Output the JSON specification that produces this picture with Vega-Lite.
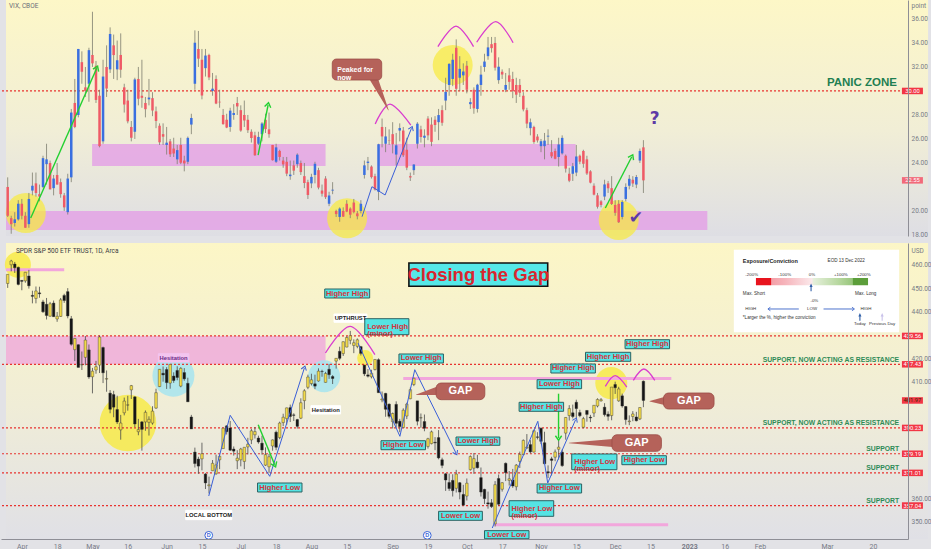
{
  "$schema": "https://vega.github.io/schema/vega-lite/v6.json",
  "background": "#e2e2e6",
  "padding": 0,
  "spacing": 3,
  "config": {
    "view": {"stroke": null},
    "font": "Liberation Sans",
    "axis": {"grid": false, "ticks": false, "domainColor": "#8e8e96", "labelColor": "#787b86", "labelFont": "Roboto", "labelFontSize": 6.5, "labelOverlap": false}
  },
  "datasets": {
    "vix": [
      {"t":-4,"o":22.0,"h":22.8,"l":19.5,"c":19.6},{"t":-3,"o":19.4,"h":19.6,"l":18.1,"c":18.9},{"t":-2,"o":19.0,"h":19.9,"l":18.7,"c":19.3},{"t":-1,"o":19.3,"h":20.9,"l":19.2,"c":20.6},
      {"t":0,"o":20.6,"h":21.0,"l":19.3,"c":19.6},{"t":1,"o":19.6,"h":19.9,"l":18.6,"c":18.6},{"t":2,"o":18.9,"h":21.5,"l":18.6,"c":21.0},{"t":3,"o":21.7,"h":23.2,"l":21.3,"c":22.1},
      {"t":4,"o":22.3,"h":23.2,"l":21.2,"c":21.5},{"t":5,"o":21.4,"h":22.2,"l":20.8,"c":21.2},{"t":6,"o":22.0,"h":24.6,"l":21.9,"c":24.4},{"t":7,"o":23.9,"h":25.6,"l":22.2,"c":24.3},
      {"t":8,"o":24.0,"h":24.2,"l":21.8,"c":21.8},{"t":9,"o":21.9,"h":23.0,"l":21.3,"c":22.7},{"t":10,"o":23.0,"h":24.0,"l":22.2,"c":22.2},{"t":11,"o":22.4,"h":22.7,"l":21.1,"c":21.4},
      {"t":12,"o":21.3,"h":21.5,"l":20.0,"c":20.3},{"t":13,"o":19.9,"h":23.1,"l":19.7,"c":22.7},{"t":14,"o":22.8,"h":28.5,"l":22.4,"c":28.2},{"t":15,"o":29.0,"h":31.0,"l":26.9,"c":27.0},
      {"t":16,"o":28.0,"h":33.5,"l":27.8,"c":33.5},{"t":17,"o":32.4,"h":33.3,"l":30.6,"c":31.6},{"t":18,"o":30.3,"h":32.0,"l":29.5,"c":30.0},{"t":19,"o":30.6,"h":33.6,"l":29.1,"c":33.4},
      {"t":20,"o":33.0,"h":36.6,"l":32.0,"c":32.3},{"t":21,"o":32.1,"h":32.5,"l":29.0,"c":29.25},{"t":22,"o":29.6,"h":30.1,"l":25.3,"c":25.4},{"t":23,"o":25.8,"h":32.6,"l":25.6,"c":31.2},
      {"t":24,"o":32.0,"h":33.8,"l":29.5,"c":30.2},{"t":25,"o":31.8,"h":35.3,"l":31.5,"c":34.75},{"t":26,"o":33.8,"h":34.7,"l":31.0,"c":32.99},{"t":27,"o":31.8,"h":34.2,"l":30.9,"c":32.56},
      {"t":28,"o":33.0,"h":34.8,"l":31.1,"c":31.77},{"t":29,"o":30.3,"h":30.6,"l":28.2,"c":28.87},{"t":30,"o":29.2,"h":30.1,"l":27.3,"c":27.47},{"t":31,"o":27.0,"h":27.5,"l":25.8,"c":26.1},
      {"t":32,"o":26.6,"h":31.1,"l":26.0,"c":30.96},{"t":33,"o":31.0,"h":32.0,"l":28.8,"c":29.35},{"t":34,"o":29.6,"h":32.6,"l":28.6,"c":29.43},{"t":35,"o":29.0,"h":29.5,"l":27.8,"c":28.48},
      {"t":36,"o":29.3,"h":31.0,"l":28.8,"c":29.45},{"t":37,"o":29.4,"h":29.9,"l":27.9,"c":28.37},{"t":38,"o":28.3,"h":28.7,"l":26.9,"c":27.5},{"t":39,"o":27.1,"h":27.3,"l":25.5,"c":25.72},
      {"t":40,"o":26.4,"h":27.3,"l":25.5,"c":26.19},{"t":41,"o":25.5,"h":27.0,"l":24.7,"c":25.69},{"t":42,"o":25.8,"h":26.0,"l":24.5,"c":24.72},{"t":43,"o":25.2,"h":26.1,"l":24.5,"c":24.79},
      {"t":44,"o":24.3,"h":25.5,"l":23.9,"c":25.07},{"t":45,"o":25.5,"h":26.1,"l":23.9,"c":24.02},{"t":46,"o":24.2,"h":24.6,"l":23.3,"c":23.96},{"t":47,"o":24.1,"h":26.2,"l":23.9,"c":26.09},
      {"t":48,"o":27.2,"h":28.1,"l":26.4,"c":27.75},{"t":49,"o":30.6,"h":35.05,"l":30.1,"c":34.02},{"t":50,"o":33.5,"h":35.0,"l":32.0,"c":32.69},{"t":51,"o":32.6,"h":33.5,"l":29.3,"c":29.62},
      {"t":52,"o":31.9,"h":33.5,"l":31.2,"c":32.95},{"t":53,"o":33.0,"h":33.1,"l":30.9,"c":31.13},{"t":54,"o":30.0,"h":31.5,"l":29.6,"c":30.19},{"t":55,"o":31.0,"h":31.3,"l":28.9,"c":28.95},
      {"t":56,"o":29.1,"h":30.1,"l":28.6,"c":29.05},{"t":57,"o":28.0,"h":28.5,"l":27.2,"c":27.23},{"t":58,"o":27.6,"h":28.1,"l":26.9,"c":26.95},{"t":59,"o":27.0,"h":28.6,"l":26.6,"c":28.36},
      {"t":60,"o":28.0,"h":28.9,"l":27.6,"c":28.16},{"t":61,"o":29.0,"h":29.5,"l":28.0,"c":28.71},{"t":62,"o":28.4,"h":28.8,"l":26.6,"c":26.7},{"t":63,"o":28.0,"h":29.2,"l":27.0,"c":27.54},
      {"t":64,"o":27.6,"h":28.0,"l":26.5,"c":26.73},{"t":65,"o":26.6,"h":26.8,"l":25.7,"c":26.08},{"t":66,"o":26.3,"h":26.6,"l":24.6,"c":24.64},{"t":67,"o":25.6,"h":26.6,"l":25.5,"c":26.17},
      {"t":68,"o":26.4,"h":27.4,"l":25.8,"c":27.29},{"t":69,"o":27.6,"h":28.1,"l":26.5,"c":26.82},{"t":70,"o":26.8,"h":28.2,"l":26.1,"c":26.4},{"t":71,"o":25.5,"h":25.5,"l":24.2,"c":24.23},
      {"t":72,"o":24.1,"h":25.6,"l":24.0,"c":25.3},{"t":73,"o":25.0,"h":25.1,"l":24.2,"c":24.5},{"t":74,"o":24.2,"h":24.5,"l":23.6,"c":23.88},{"t":75,"o":24.1,"h":24.5,"l":22.9,"c":23.11},
      {"t":76,"o":22.9,"h":24.2,"l":22.6,"c":23.03},{"t":77,"o":23.8,"h":24.2,"l":23.0,"c":23.36},{"t":78,"o":23.9,"h":24.8,"l":23.6,"c":24.69},{"t":79,"o":24.0,"h":24.2,"l":23.0,"c":23.24},
      {"t":80,"o":22.9,"h":24.0,"l":21.9,"c":22.33},{"t":81,"o":22.4,"h":22.6,"l":21.0,"c":21.33},{"t":82,"o":22.3,"h":23.1,"l":21.9,"c":22.84},{"t":83,"o":23.0,"h":24.1,"l":22.3,"c":23.93},
      {"t":84,"o":23.4,"h":23.6,"l":21.8,"c":21.95},{"t":85,"o":21.7,"h":22.2,"l":21.2,"c":21.44},{"t":86,"o":22.7,"h":22.9,"l":21.0,"c":21.15},{"t":87,"o":20.6,"h":21.6,"l":20.4,"c":21.29},
      {"t":88,"o":21.7,"h":22.4,"l":21.4,"c":21.77},{"t":89,"o":20.0,"h":20.1,"l":19.5,"c":19.74},{"t":90,"o":19.5,"h":20.3,"l":19.1,"c":20.2},{"t":91,"o":20.0,"h":20.3,"l":19.5,"c":19.53},
      {"t":92,"o":20.6,"h":20.9,"l":19.9,"c":19.95},{"t":93,"o":20.2,"h":20.3,"l":19.4,"c":19.69},{"t":94,"o":20.7,"h":21.0,"l":19.8,"c":19.9},{"t":95,"o":19.8,"h":20.0,"l":19.3,"c":19.56},
      {"t":96,"o":20.0,"h":20.9,"l":19.8,"c":20.6},{"t":97,"o":23.0,"h":24.2,"l":22.7,"c":23.8},{"t":98,"o":24.0,"h":24.5,"l":23.4,"c":24.11},{"t":99,"o":23.7,"h":23.8,"l":22.7,"c":22.82},
      {"t":100,"o":22.9,"h":23.1,"l":21.7,"c":21.78},{"t":101,"o":21.6,"h":25.6,"l":20.9,"c":25.56},{"t":102,"o":27.0,"h":27.7,"l":25.3,"c":26.21},{"t":103,"o":25.6,"h":27.0,"l":24.9,"c":26.21},
      {"t":104,"o":25.9,"h":26.8,"l":25.5,"c":25.87},{"t":105,"o":26.4,"h":27.4,"l":24.8,"c":25.56},{"t":106,"o":24.7,"h":26.5,"l":23.8,"c":25.47},{"t":107,"o":26.7,"h":27.3,"l":25.8,"c":26.91},
      {"t":108,"o":26.7,"h":27.0,"l":24.5,"c":24.64},{"t":109,"o":25.1,"h":26.1,"l":23.4,"c":23.61},{"t":110,"o":22.9,"h":23.2,"l":22.5,"c":22.79},{"t":111,"o":23.4,"h":23.9,"l":23.0,"c":23.87},
      {"t":112,"o":25.6,"h":27.4,"l":25.2,"c":27.27},{"t":113,"o":26.8,"h":27.1,"l":25.7,"c":26.16},{"t":114,"o":26.1,"h":26.8,"l":25.3,"c":26.27},{"t":115,"o":27.7,"h":27.9,"l":25.9,"c":26.3},
      {"t":116,"o":27.2,"h":27.8,"l":25.4,"c":25.76},{"t":117,"o":27.6,"h":27.9,"l":26.6,"c":27.16},{"t":118,"o":27.4,"h":28.5,"l":25.9,"c":27.99},{"t":119,"o":28.4,"h":28.8,"l":27.1,"c":27.35},
      {"t":120,"o":29.2,"h":31.1,"l":28.4,"c":29.92},{"t":121,"o":30.5,"h":32.3,"l":29.6,"c":32.26},{"t":122,"o":31.0,"h":33.1,"l":30.4,"c":32.6},{"t":123,"o":33.6,"h":34.3,"l":29.6,"c":30.18},
      {"t":124,"o":31.1,"h":32.9,"l":30.0,"c":31.84},{"t":125,"o":31.3,"h":32.3,"l":30.5,"c":31.62},{"t":126,"o":32.1,"h":32.5,"l":29.8,"c":30.1},{"t":127,"o":28.9,"h":29.4,"l":28.5,"c":29.07},
      {"t":128,"o":30.1,"h":30.3,"l":28.1,"c":28.55},{"t":129,"o":28.5,"h":30.6,"l":28.2,"c":30.52},{"t":130,"o":30.5,"h":32.1,"l":29.6,"c":31.36},{"t":131,"o":32.0,"h":33.1,"l":31.6,"c":32.45},
      {"t":132,"o":32.9,"h":34.5,"l":32.6,"c":33.63},{"t":133,"o":33.9,"h":34.5,"l":33.2,"c":33.57},{"t":134,"o":34.0,"h":34.5,"l":31.7,"c":31.94},{"t":135,"o":30.9,"h":32.8,"l":30.6,"c":32.02},
      {"t":136,"o":31.6,"h":31.8,"l":31.0,"c":31.37},{"t":137,"o":30.1,"h":31.5,"l":29.9,"c":30.5},{"t":138,"o":31.3,"h":31.9,"l":30.1,"c":30.76},{"t":139,"o":31.0,"h":31.6,"l":29.4,"c":29.98},
      {"t":140,"o":30.5,"h":31.1,"l":29.0,"c":29.69},{"t":141,"o":30.5,"h":31.0,"l":29.5,"c":29.85},{"t":142,"o":29.6,"h":29.9,"l":28.3,"c":28.46},{"t":143,"o":28.4,"h":28.6,"l":26.9,"c":27.28},
      {"t":144,"o":26.9,"h":27.7,"l":26.3,"c":27.39},{"t":145,"o":27.0,"h":27.1,"l":25.6,"c":25.75},{"t":146,"o":26.2,"h":26.4,"l":25.7,"c":25.88},{"t":147,"o":25.4,"h":26.0,"l":24.9,"c":25.81},
      {"t":148,"o":25.4,"h":26.5,"l":24.3,"c":25.86},{"t":149,"o":26.2,"h":26.8,"l":25.5,"c":26.27},{"t":150,"o":24.9,"h":25.9,"l":24.4,"c":24.55},{"t":151,"o":25.0,"h":25.2,"l":24.3,"c":24.35},
      {"t":152,"o":24.5,"h":26.1,"l":23.7,"c":25.54},{"t":153,"o":24.8,"h":26.3,"l":24.7,"c":26.09},{"t":154,"o":24.6,"h":24.7,"l":23.2,"c":23.53},{"t":155,"o":23.1,"h":23.6,"l":22.4,"c":22.52},
      {"t":156,"o":23.1,"h":24.0,"l":22.5,"c":23.73},{"t":157,"o":23.2,"h":25.5,"l":22.9,"c":24.54},{"t":158,"o":24.6,"h":24.7,"l":23.9,"c":24.11},{"t":159,"o":25.0,"h":25.1,"l":23.6,"c":23.93},
      {"t":160,"o":24.3,"h":24.6,"l":23.0,"c":23.12},{"t":161,"o":23.3,"h":23.4,"l":22.3,"c":22.36},{"t":162,"o":22.1,"h":22.3,"l":21.3,"c":21.36},{"t":163,"o":21.3,"h":21.5,"l":20.2,"c":20.35},
      {"t":164,"o":20.8,"h":20.9,"l":20.3,"c":20.5},{"t":165,"o":21.2,"h":22.6,"l":20.9,"c":22.21},{"t":166,"o":22.3,"h":22.5,"l":21.5,"c":21.89},{"t":167,"o":21.9,"h":22.9,"l":20.5,"c":20.58},
      {"t":168,"o":20.5,"h":20.9,"l":19.6,"c":19.84},{"t":169,"o":20.6,"h":20.9,"l":19.0,"c":19.06},{"t":170,"o":19.5,"h":20.9,"l":19.3,"c":20.75},{"t":171,"o":21.0,"h":22.3,"l":20.8,"c":22.0},
      {"t":172,"o":22.1,"h":23.0,"l":21.8,"c":22.68},{"t":173,"o":22.6,"h":22.9,"l":22.0,"c":22.29},{"t":174,"o":22.2,"h":23.0,"l":21.9,"c":22.83},{"t":175,"o":24.2,"h":25.2,"l":24.0,"c":25.0},
      {"t":176,"o":25.3,"h":25.9,"l":21.5,"c":22.55}
    ],
    "spy": [
      {"t":-4,"o":452.0,"h":455.9,"l":450.1,"c":455.9},{"t":-3,"o":460.0,"h":462.1,"l":457.2,"c":461.6},{"t":-2,"o":460.3,"h":461.2,"l":456.5,"c":458.7},{"t":-1,"o":458.9,"h":459.2,"l":451.2,"c":451.6},
      {"t":0,"o":453.3,"h":453.5,"l":449.1,"c":452.9},{"t":1,"o":453.1,"h":456.9,"l":452.3,"c":456.8},{"t":2,"o":455.2,"h":457.8,"l":449.8,"c":451.0},{"t":3,"o":446.9,"h":448.9,"l":443.5,"c":446.5},
      {"t":4,"o":445.6,"h":450.7,"l":443.5,"c":448.8},{"t":5,"o":447.97,"h":450.6,"l":445.9,"c":447.6},{"t":6,"o":444.1,"h":445.0,"l":439.4,"c":439.9},{"t":7,"o":443.1,"h":445.8,"l":436.6,"c":438.3},
      {"t":8,"o":438.0,"h":444.1,"l":437.8,"c":443.3},{"t":9,"o":443.6,"h":444.7,"l":437.7,"c":437.8},{"t":10,"o":436.8,"h":439.8,"l":435.6,"c":437.97},{"t":11,"o":437.9,"h":445.8,"l":437.7,"c":445.0},
      {"t":12,"o":446.9,"h":447.6,"l":443.7,"c":444.7},{"t":13,"o":448.5,"h":450.0,"l":437.1,"c":438.1},{"t":14,"o":436.9,"h":438.1,"l":425.4,"c":426.0},{"t":15,"o":423.7,"h":428.7,"l":418.8,"c":428.5},
      {"t":16,"o":425.8,"h":426.0,"l":416.1,"c":416.1},{"t":17,"o":417.2,"h":422.9,"l":415.0,"c":417.3},{"t":18,"o":420.4,"h":429.5,"l":417.0,"c":427.8},{"t":19,"o":423.6,"h":425.9,"l":411.2,"c":412.0},
      {"t":20,"o":412.1,"h":415.9,"l":405.0,"c":414.5},{"t":21,"o":415.0,"h":418.9,"l":413.4,"c":416.4},{"t":22,"o":417.1,"h":429.7,"l":413.7,"c":429.1},{"t":23,"o":424.6,"h":425.0,"l":409.4,"c":413.8},
      {"t":24,"o":411.1,"h":414.8,"l":405.7,"c":411.3},{"t":25,"o":405.1,"h":406.4,"l":396.5,"c":398.2},{"t":26,"o":404.5,"h":406.1,"l":394.8,"c":399.1},{"t":27,"o":398.1,"h":404.0,"l":391.9,"c":392.75},
      {"t":28,"o":389.4,"h":395.8,"l":385.2,"c":392.3},{"t":29,"o":396.7,"h":403.2,"l":395.6,"c":401.7},{"t":30,"o":399.98,"h":403.97,"l":397.6,"c":400.1},{"t":31,"o":406.5,"h":408.6,"l":402.6,"c":408.3},
      {"t":32,"o":403.5,"h":403.8,"l":390.6,"c":391.9},{"t":33,"o":388.6,"h":394.1,"l":387.1,"c":389.5},{"t":34,"o":392.8,"h":393.2,"l":380.5,"c":389.6},{"t":35,"o":392.8,"h":397.7,"l":389.0,"c":396.9},
      {"t":36,"o":392.6,"h":395.2,"l":386.96,"c":393.9},{"t":37,"o":392.3,"h":399.5,"l":391.6,"c":397.4},{"t":38,"o":398.7,"h":407.0,"l":398.4,"c":405.3},{"t":39,"o":407.9,"h":415.4,"l":407.7,"c":415.3},
      {"t":40,"o":413.6,"h":416.5,"l":410.0,"c":412.9},{"t":41,"o":415.2,"h":416.2,"l":406.9,"c":409.6},{"t":42,"o":409.4,"h":417.4,"l":407.0,"c":417.4},{"t":43,"o":412.4,"h":414.0,"l":409.5,"c":410.5},
      {"t":44,"o":414.8,"h":416.6,"l":410.6,"c":411.8},{"t":45,"o":408.1,"h":416.2,"l":407.6,"c":415.7},{"t":46,"o":413.9,"h":415.8,"l":410.4,"c":411.2},{"t":47,"o":409.3,"h":411.7,"l":401.4,"c":401.4},
      {"t":48,"o":394.9,"h":395.8,"l":389.8,"c":389.8},{"t":49,"o":379.9,"h":381.8,"l":373.3,"c":375.0},{"t":50,"o":376.9,"h":377.9,"l":370.6,"c":373.9},{"t":51,"o":377.0,"h":383.9,"l":372.1,"c":379.2},
      {"t":52,"o":370.5,"h":370.9,"l":364.1,"c":366.7},{"t":53,"o":365.5,"h":369.4,"l":362.2,"c":365.9},{"t":54,"o":371.9,"h":376.5,"l":371.8,"c":375.1},{"t":55,"o":370.6,"h":378.8,"l":370.2,"c":374.4},
      {"t":56,"o":376.6,"h":378.8,"l":372.6,"c":378.1},{"t":57,"o":381.4,"h":390.1,"l":381.4,"c":390.1},{"t":58,"o":391.1,"h":391.4,"l":387.4,"c":388.6},{"t":59,"o":390.2,"h":393.2,"l":380.4,"c":380.7},
      {"t":60,"o":381.2,"h":382.3,"l":378.4,"c":380.3},{"t":61,"o":376.2,"h":380.7,"l":372.6,"c":377.3},{"t":62,"o":376.6,"h":381.7,"l":373.8,"c":381.2},{"t":63,"o":375.9,"h":382.0,"l":372.6,"c":381.96},
      {"t":64,"o":382.1,"h":386.0,"l":378.9,"c":383.25},{"t":65,"o":385.1,"h":389.8,"l":383.3,"c":388.99},{"t":66,"o":387.3,"h":390.6,"l":385.7,"c":388.67},{"t":67,"o":385.9,"h":386.9,"l":383.5,"c":384.2},
      {"t":68,"o":383.7,"h":386.9,"l":378.8,"c":380.8},{"t":69,"o":374.3,"h":381.9,"l":374.0,"c":378.8},{"t":70,"o":373.6,"h":379.1,"l":371.0,"c":377.9},{"t":71,"o":382.5,"h":385.3,"l":380.5,"c":385.1},
      {"t":72,"o":388.4,"h":389.1,"l":380.7,"c":381.95},{"t":73,"o":386.1,"h":392.9,"l":385.4,"c":392.3},{"t":74,"o":392.5,"h":396.3,"l":391.0,"c":394.8},{"t":75,"o":394.2,"h":398.9,"l":391.6,"c":398.8},
      {"t":76,"o":398.9,"h":400.2,"l":392.75,"c":395.1},{"t":77,"o":395.8,"h":396.5,"l":393.2,"c":395.6},{"t":78,"o":393.8,"h":394.1,"l":389.95,"c":390.9},{"t":79,"o":394.4,"h":402.9,"l":394.0,"c":401.0},
      {"t":80,"o":401.9,"h":406.8,"l":398.2,"c":406.1},{"t":81,"o":407.6,"h":413.0,"l":406.8,"c":411.99},{"t":82,"o":409.2,"h":413.4,"l":408.4,"c":410.8},{"t":83,"o":409.1,"h":413.0,"l":406.8,"c":408.1},
      {"t":84,"o":410.3,"h":415.7,"l":410.0,"c":414.5},{"t":85,"o":414.4,"h":415.1,"l":412.1,"c":414.3},{"t":86,"o":409.7,"h":414.2,"l":409.6,"c":413.5},{"t":87,"o":415.3,"h":417.6,"l":411.2,"c":412.99},
      {"t":88,"o":412.2,"h":412.8,"l":409.0,"c":411.35},{"t":89,"o":418.8,"h":420.1,"l":415.6,"c":419.99},{"t":90,"o":422.99,"h":424.95,"l":419.2,"c":419.99},{"t":91,"o":422.0,"h":427.2,"l":421.0,"c":427.1},
      {"t":92,"o":424.8,"h":429.4,"l":424.7,"c":428.9},{"t":93,"o":427.7,"h":431.7,"l":426.0,"c":429.7},{"t":94,"o":425.5,"h":428.1,"l":422.2,"c":426.65},{"t":95,"o":425.1,"h":428.5,"l":424.3,"c":427.9},
      {"t":96,"o":424.98,"h":425.3,"l":421.2,"c":422.1},{"t":97,"o":417.1,"h":417.2,"l":412.4,"c":413.35},{"t":98,"o":412.9,"h":415.4,"l":411.8,"c":412.35},{"t":99,"o":412.1,"h":415.1,"l":411.4,"c":413.67},
      {"t":100,"o":415.2,"h":419.6,"l":414.8,"c":419.5},{"t":101,"o":419.4,"h":419.96,"l":405.3,"c":405.3},{"t":102,"o":402.2,"h":405.8,"l":401.2,"c":402.6},{"t":103,"o":405.0,"h":405.2,"l":395.0,"c":398.2},
      {"t":104,"o":400.4,"h":400.7,"l":394.3,"c":395.2},{"t":105,"o":392.9,"h":396.8,"l":390.0,"c":396.4},{"t":106,"o":400.3,"h":401.6,"l":390.3,"c":392.2},{"t":107,"o":393.1,"h":394.1,"l":388.4,"c":390.8},
      {"t":108,"o":390.4,"h":398.6,"l":390.2,"c":397.8},{"t":109,"o":395.3,"h":401.0,"l":394.0,"c":400.4},{"t":110,"o":402.7,"h":407.5,"l":402.5,"c":406.6},{"t":111,"o":408.8,"h":411.7,"l":408.1,"c":411.5},
      {"t":112,"o":401.8,"h":401.8,"l":391.3,"c":393.1},{"t":113,"o":394.5,"h":396.4,"l":390.3,"c":394.6},{"t":114,"o":392.96,"h":395.96,"l":388.8,"c":390.1},{"t":115,"o":382.3,"h":386.0,"l":381.4,"c":385.6},
      {"t":116,"o":383.5,"h":389.1,"l":383.2,"c":388.55},{"t":117,"o":384.1,"h":386.3,"l":380.7,"c":383.8},{"t":118,"o":386.1,"h":389.3,"l":376.8,"c":377.4},{"t":119,"o":376.6,"h":377.5,"l":373.0,"c":374.2},
      {"t":120,"o":370.6,"h":370.9,"l":363.3,"c":367.95},{"t":121,"o":366.9,"h":370.7,"l":363.3,"c":364.3},{"t":122,"o":367.8,"h":370.4,"l":360.9,"c":363.4},{"t":123,"o":364.4,"h":372.3,"l":362.6,"c":370.5},
      {"t":124,"o":366.8,"h":367.1,"l":359.7,"c":362.8},{"t":125,"o":361.8,"h":365.9,"l":357.0,"c":357.2},{"t":126,"o":361.1,"h":368.6,"l":359.2,"c":366.6},{"t":127,"o":372.4,"h":378.5,"l":371.96,"c":377.99},
      {"t":128,"o":373.0,"h":379.5,"l":370.6,"c":377.1},{"t":129,"o":375.6,"h":378.7,"l":372.9,"c":373.2},{"t":130,"o":368.97,"h":373.3,"l":360.9,"c":362.8},{"t":131,"o":363.96,"h":364.2,"l":357.7,"c":360.0},
      {"t":132,"o":358.2,"h":363.0,"l":355.7,"c":357.7},{"t":133,"o":358.2,"h":359.8,"l":356.0,"c":356.6},{"t":134,"o":349.2,"h":367.5,"l":348.1,"c":365.97},{"t":135,"o":368.6,"h":370.3,"l":356.96,"c":357.6},
      {"t":136,"o":364.0,"h":367.0,"l":363.0,"c":366.8},{"t":137,"o":375.1,"h":375.45,"l":367.5,"c":371.1},{"t":138,"o":367.8,"h":371.8,"l":365.6,"c":368.5},{"t":139,"o":368.0,"h":372.7,"l":364.6,"c":365.4},
      {"t":140,"o":365.1,"h":374.8,"l":363.5,"c":374.3},{"t":141,"o":375.9,"h":380.1,"l":373.1,"c":378.9},{"t":142,"o":378.8,"h":385.3,"l":378.7,"c":384.9},{"t":143,"o":381.6,"h":387.6,"l":381.4,"c":382.0},
      {"t":144,"o":383.1,"h":385.0,"l":379.3,"c":379.98},{"t":145,"o":379.9,"h":389.5,"l":379.7,"c":389.0},{"t":146,"o":386.4,"h":388.4,"l":385.3,"c":386.2},{"t":147,"o":390.1,"h":390.4,"l":383.3,"c":384.5},
      {"t":148,"o":383.9,"h":388.6,"l":374.8,"c":374.9},{"t":149,"o":371.5,"h":374.2,"l":368.8,"c":371.0},{"t":150,"o":377.0,"h":377.9,"l":369.9,"c":376.35},{"t":151,"o":377.7,"h":381.0,"l":376.0,"c":379.95},
      {"t":152,"o":381.1,"h":385.1,"l":376.7,"c":382.0},{"t":153,"o":379.9,"h":381.0,"l":373.6,"c":374.1},{"t":154,"o":388.0,"h":394.8,"l":385.2,"c":394.7},{"t":155,"o":395.5,"h":399.96,"l":393.4,"c":398.5},
      {"t":156,"o":396.7,"h":400.2,"l":394.3,"c":395.1},{"t":157,"o":401.2,"h":402.3,"l":394.5,"c":398.5},{"t":158,"o":396.8,"h":398.0,"l":394.8,"c":395.45},{"t":159,"o":390.5,"h":394.95,"l":390.1,"c":394.2},
      {"t":160,"o":397.7,"h":397.8,"l":392.9,"c":396.0},{"t":161,"o":394.8,"h":395.8,"l":392.7,"c":394.5},{"t":162,"o":396.6,"h":400.0,"l":394.9,"c":399.9},{"t":163,"o":399.6,"h":402.9,"l":399.0,"c":402.4},
      {"t":164,"o":401.8,"h":403.0,"l":401.5,"c":402.3},{"t":165,"o":399.1,"h":400.8,"l":395.1,"c":395.9},{"t":166,"o":396.1,"h":397.3,"l":393.3,"c":395.2},{"t":167,"o":395.5,"h":407.7,"l":393.5,"c":407.7},
      {"t":168,"o":408.8,"h":410.0,"l":404.75,"c":407.4},{"t":169,"o":401.8,"h":407.8,"l":401.4,"c":406.9},{"t":170,"o":403.95,"h":404.9,"l":398.9,"c":399.6},{"t":171,"o":399.4,"h":399.6,"l":391.6,"c":393.8},
      {"t":172,"o":392.9,"h":395.6,"l":391.4,"c":393.2},{"t":173,"o":395.1,"h":397.4,"l":393.1,"c":396.2},{"t":174,"o":394.9,"h":397.1,"l":393.0,"c":393.3},{"t":175,"o":394.1,"h":398.99,"l":393.6,"c":398.95},
      {"t":176,"o":410.2,"h":410.5,"l":399.1,"c":401.97}
    ],
    "bg": [
      {"p":"vix","t1":-4.48,"t2":256.6,"v1":17.913,"v2":37.58},
      {"p":"spy","t1":-4.48,"t2":256.6,"v1":342.73,"v2":469.3}
    ],
    "zones": [
      {"p":"vix","t1":19.9,"t2":86.0,"v1":23.75,"v2":25.58},
      {"p":"vix","t1":100.8,"t2":156.8,"v1":23.75,"v2":25.58},
      {"p":"vix","t1":-4.48,"t2":194.1,"v1":18.41,"v2":20.0},
      {"p":"spy","t1":-4.48,"t2":86.0,"v1":417.43,"v2":429.56}
    ],
    "circ": [
      {"p":"vix","grp":"y1600","t":1.12,"v":19.83},
      {"p":"vix","grp":"y1600","t":92.1,"v":19.39},
      {"p":"vix","grp":"y1600","t":122.0,"v":32.16},
      {"p":"vix","grp":"y1600","t":169.0,"v":19.25},
      {"p":"spy","grp":"y3200","t":30.05,"v":392.33},
      {"p":"spy","grp":"y1024","t":166.9,"v":409.4},
      {"p":"spy","grp":"y680","t":-1.12,"v":460.0},
      {"p":"spy","grp":"y256","t":97.2,"v":420.1},
      {"p":"spy","grp":"c1600","t":42.93,"v":412.56},
      {"p":"spy","grp":"c1024","t":85.6,"v":412.3},
      {"p":"spy","grp":"eup","t":223.47,"v":450.3},
      {"p":"spy","grp":"eup","t":237.3,"v":437.7},
      {"p":"spy","grp":"eprev","t":243.6,"v":437.7}
    ],
    "levels": [
      {"p":"vix","v":30.0},
      {"p":"spy","v":429.56},{"p":"spy","v":417.43},{"p":"spy","v":390.23},
      {"p":"spy","v":379.19},{"p":"spy","v":371.01},{"p":"spy","v":357.04}
    ],
    "lines": [
      {"p":"spy","grp":"blue","id":"zA","ord":0,"t":52.93,"v":361.12},
      {"p":"spy","grp":"blue","id":"zA","ord":1,"t":59.0,"v":395.62},
      {"p":"spy","grp":"blue","id":"zA","ord":2,"t":70.2,"v":369.54},
      {"p":"spy","grp":"blue","id":"zA","ord":3,"t":80.0,"v":415.85},
      {"p":"spy","grp":"blue","id":"zB","ord":0,"t":95.2,"v":426.5},
      {"p":"spy","grp":"blue","id":"zB","ord":1,"t":107.05,"v":386.65},
      {"p":"spy","grp":"blue","id":"zB","ord":2,"t":111.26,"v":415.12},
      {"p":"spy","grp":"blue","id":"zB","ord":3,"t":122.93,"v":379.5},
      {"p":"spy","grp":"blue","id":"zC","ord":0,"t":133.2,"v":347.43},
      {"p":"spy","grp":"blue","id":"zC","ord":1,"t":146.1,"v":393.06},
      {"p":"spy","grp":"blue","id":"zC","ord":2,"t":148.9,"v":366.67},
      {"p":"spy","grp":"blue","id":"zC","ord":3,"t":156.8,"v":393.74},
      {"p":"spy","grp":"green","id":"gD","ord":0,"t":66.93,"v":391.6},
      {"p":"spy","grp":"green","id":"gD","ord":1,"t":71.6,"v":374.5},
      {"p":"spy","grp":"green","id":"gE","ord":0,"t":151.97,"v":404.86},
      {"p":"spy","grp":"green","id":"gE","ord":1,"t":151.97,"v":385.92},
      {"p":"spy","grp":"pink","id":"aB1","ord":0,"t":85.97,"v":422.26},
      {"p":"spy","grp":"pink","id":"aB1","ord":1,"t":92.97,"v":433.68},
      {"p":"spy","grp":"pink","id":"aB1","ord":2,"t":99.97,"v":421.54},
      {"p":"spy","grp":"pink","id":"aB2","ord":0,"t":165.22,"v":408.02},
      {"p":"spy","grp":"pink","id":"aB2","ord":1,"t":168.02,"v":412.56},
      {"p":"spy","grp":"pink","id":"aB2","ord":2,"t":171.3,"v":407.72},
      {"p":"spy","grp":"pink","id":"aB3","ord":0,"t":173.14,"v":410.59},
      {"p":"spy","grp":"pink","id":"aB3","ord":1,"t":176.14,"v":415.42},
      {"p":"spy","grp":"pink","id":"aB3","ord":2,"t":179.22,"v":410.59},
      {"p":"spy","grp":"pinkbar","id":"pL1","ord":0,"t":-4.48,"v":457.9},
      {"p":"spy","grp":"pinkbar","id":"pL1","ord":1,"t":12.0,"v":457.9},
      {"p":"spy","grp":"pinkbar","id":"pL2","ord":0,"t":108.0,"v":411.4},
      {"p":"spy","grp":"pinkbar","id":"pL2","ord":1,"t":183.9,"v":411.4},
      {"p":"spy","grp":"pinkbar","id":"pL3","ord":0,"t":133.9,"v":348.84},
      {"p":"spy","grp":"pinkbar","id":"pL3","ord":1,"t":183.0,"v":348.84},
      {"p":"spy","grp":"eblue","id":"e1","ord":0,"t":220.0,"v":441.08},
      {"p":"spy","grp":"eblue","id":"e1","ord":1,"t":211.6,"v":441.08},
      {"p":"spy","grp":"eblue","id":"e2","ord":0,"t":227.0,"v":441.08},
      {"p":"spy","grp":"eblue","id":"e2","ord":1,"t":235.4,"v":441.08},
      {"p":"vix","grp":"blue","id":"vB","ord":0,"t":96.33,"v":19.52},
      {"p":"vix","grp":"blue","id":"vB","ord":1,"t":99.13,"v":22.02},
      {"p":"vix","grp":"blue","id":"vB","ord":2,"t":102.86,"v":21.33},
      {"p":"vix","grp":"blue","id":"vB","ord":3,"t":110.33,"v":26.89},
      {"p":"vix","grp":"green","id":"gA","ord":0,"t":2.52,"v":19.41},
      {"p":"vix","grp":"green","id":"gA","ord":1,"t":21.2,"v":31.89},
      {"p":"vix","grp":"green","id":"gB","ord":0,"t":66.9,"v":24.66},
      {"p":"vix","grp":"green","id":"gB","ord":1,"t":69.73,"v":28.83},
      {"p":"vix","grp":"green","id":"gC","ord":0,"t":165.22,"v":20.25},
      {"p":"vix","grp":"green","id":"gC","ord":1,"t":172.7,"v":24.52},
      {"p":"vix","grp":"pink","id":"aA1","ord":0,"t":100.06,"v":27.25},
      {"p":"vix","grp":"pink","id":"aA1","ord":1,"t":104.26,"v":28.91},
      {"p":"vix","grp":"pink","id":"aA1","ord":2,"t":110.14,"v":27.16},
      {"p":"vix","grp":"pink","id":"aA2","ord":0,"t":117.81,"v":33.69},
      {"p":"vix","grp":"pink","id":"aA2","ord":1,"t":122.93,"v":35.41},
      {"p":"vix","grp":"pink","id":"aA2","ord":2,"t":127.9,"v":33.69},
      {"p":"vix","grp":"pink","id":"aA3","ord":0,"t":128.8,"v":34.06},
      {"p":"vix","grp":"pink","id":"aA3","ord":1,"t":134.2,"v":35.77},
      {"p":"vix","grp":"pink","id":"aA3","ord":2,"t":139.1,"v":34.02}
    ],
    "heads": [
      {"p":"spy","grp":"blue","t":80.0,"v":415.85,"ang":18},
      {"p":"spy","grp":"blue","t":122.93,"v":379.5,"ang":153},
      {"p":"spy","grp":"blue","t":156.8,"v":393.74,"ang":24},
      {"p":"spy","grp":"green","t":71.6,"v":374.5,"ang":157},
      {"p":"spy","grp":"green","t":151.97,"v":385.92,"ang":180},
      {"p":"spy","grp":"eblue","t":211.6,"v":441.08,"ang":270},
      {"p":"spy","grp":"eblue","t":235.4,"v":441.08,"ang":90},
      {"p":"vix","grp":"blue","t":110.33,"v":26.89,"ang":22},
      {"p":"vix","grp":"green","t":21.2,"v":31.89,"ang":24},
      {"p":"vix","grp":"green","t":69.73,"v":28.83,"ang":11},
      {"p":"vix","grp":"green","t":172.7,"v":24.52,"ang":27}
    ],
    "boxes": [
      {"kind":"cyan","t1":85.77,"t2":98.49,"v1":445.78,"v2":449.63,"tc":92.13,"vc":447.7,"txt":"Higher High"},
      {"kind":"white","t1":88.4,"t2":97.7,"v1":435.39,"v2":438.94,"tc":93.05,"vc":437.17,"txt":"UPTHRUST"},
      {"kind":"cyan2","t1":97.1,"t2":109.6,"v1":430.09,"v2":436.93,"tc":103.35,"vc":433.51,"txt":"Lower High\n(minor)"},
      {"kind":"pink","t1":38.65,"t2":47.3,"v1":418.41,"v2":421.96,"tc":42.98,"vc":420.19,"txt":"Hesitation"},
      {"kind":"white","t1":81.85,"t2":90.25,"v1":396.18,"v2":399.73,"tc":86.05,"vc":397.96,"txt":"Hesitation"},
      {"kind":"cyan","t1":106.78,"t2":119.38,"v1":417.99,"v2":421.84,"tc":113.08,"vc":419.92,"txt":"Lower High"},
      {"kind":"cyan","t1":101.7,"t2":114.3,"v1":380.91,"v2":384.76,"tc":108.0,"vc":382.84,"txt":"Higher Low"},
      {"kind":"cyan","t1":66.74,"t2":79.33,"v1":362.83,"v2":366.67,"tc":73.04,"vc":364.75,"txt":"Higher Low"},
      {"kind":"white","t1":46.4,"t2":59.45,"v1":351.0,"v2":355.0,"tc":52.93,"vc":353.0,"txt":"LOCAL BOTTOM"},
      {"kind":"cyan","t1":122.94,"t2":135.34,"v1":382.8,"v2":386.34,"tc":129.14,"vc":384.57,"txt":"Lower High"},
      {"kind":"cyan","t1":118.0,"t2":130.4,"v1":350.72,"v2":354.57,"tc":124.2,"vc":352.65,"txt":"Lower Low"},
      {"kind":"cyan","t1":145.9,"t2":158.5,"v1":407.0,"v2":410.85,"tc":152.2,"vc":408.93,"txt":"Lower High"},
      {"kind":"cyan","t1":140.8,"t2":153.4,"v1":397.33,"v2":401.18,"tc":147.1,"vc":399.26,"txt":"Higher High"},
      {"kind":"cyan","t1":149.8,"t2":162.4,"v1":413.71,"v2":417.56,"tc":156.1,"vc":415.64,"txt":"Higher High"},
      {"kind":"cyan","t1":159.6,"t2":172.4,"v1":418.71,"v2":422.56,"tc":166.0,"vc":420.64,"txt":"Higher High"},
      {"kind":"cyan","t1":170.8,"t2":183.4,"v1":424.1,"v2":427.95,"tc":177.1,"vc":426.03,"txt":"Higher High"},
      {"kind":"cyan2","t1":155.7,"t2":168.5,"v1":372.36,"v2":379.08,"tc":162.1,"vc":375.72,"txt":"Higher Low\n(minor)"},
      {"kind":"cyan","t1":169.9,"t2":182.5,"v1":374.5,"v2":378.35,"tc":176.2,"vc":376.43,"txt":"Higher Low"},
      {"kind":"cyan","t1":145.9,"t2":158.5,"v1":362.4,"v2":366.25,"tc":152.2,"vc":364.33,"txt":"Higher Low"},
      {"kind":"cyan2","t1":137.97,"t2":150.6,"v1":352.43,"v2":359.1,"tc":144.29,"vc":355.77,"txt":"Higher Low\n(minor)"},
      {"kind":"cyan","t1":131.0,"t2":143.6,"v1":342.85,"v2":346.3,"tc":137.3,"vc":344.57,"txt":"Lower Low"},
      {"kind":"title","t1":109.6,"t2":148.9,"v1":450.78,"v2":460.75,"tc":129.25,"vc":455.77,"txt":"Closing the Gap"},
      {"kind":"gap","t1":117.3,"t2":131.1,"v1":402.3,"v2":409.43,"tc":124.2,"vc":405.87,"txt":"GAP"},
      {"kind":"gap","t1":167.1,"t2":181.1,"v1":380.2,"v2":387.3,"tc":174.1,"vc":383.75,"txt":"GAP"},
      {"kind":"gap","t1":181.7,"t2":196.0,"v1":398.3,"v2":405.16,"tc":188.85,"vc":401.73,"txt":"GAP"},
      {"kind":"peak","t1":87.9,"t2":101.9,"v1":30.91,"v2":32.66,"tc":89.3,"vc":31.78,"txt":"Peaked for\nnow"}
    ],
    "ptr": [
      {"p":"spy","id":"g1","end":"tip","t":111.7,"v":404.43},
      {"p":"spy","id":"g1","end":"base","t":117.5,"v":406.0},
      {"p":"spy","id":"g2","end":"tip","t":154.95,"v":383.78},
      {"p":"spy","id":"g2","end":"base","t":167.3,"v":383.75},
      {"p":"spy","id":"g3","end":"tip","t":177.8,"v":401.6},
      {"p":"spy","id":"g3","end":"base","t":181.9,"v":401.73},
      {"p":"vix","id":"pk","end":"base","t":99.7,"v":31.0},
      {"p":"vix","id":"pk","end":"tip","t":103.8,"v":28.41}
    ],
    "expo": [
      {"grp":"box","t1":201.6,"t2":248.4,"v1":431.1,"v2":466.45},
      {"grp":"bar","t1":207.86,"t2":239.6,"v1":451.21,"v2":454.33}
    ],
    "notes": [
      {"p":"vix","grp":"hdr","t":-3.64,"v":37.08,"txt":"VIX, CBOE"},
      {"p":"vix","grp":"panic","t":247.8,"v":30.66,"txt":"PANIC ZONE"},
      {"p":"vix","grp":"q","t":179.2,"v":27.7,"txt":"?"},
      {"p":"vix","grp":"chk","t":173.9,"v":19.41,"txt":"✔"},
      {"p":"spy","grp":"hdr","t":-1.68,"v":465.88,"txt":"SPDR S&P 500 ETF TRUST, 1D, Arca"},
      {"p":"spy","grp":"supp","t":248.4,"v":419.4,"txt":"SUPPORT, NOW ACTING AS RESISTANCE"},
      {"p":"spy","grp":"supp","t":248.4,"v":392.2,"txt":"SUPPORT, NOW ACTING AS RESISTANCE"},
      {"p":"spy","grp":"supp","t":248.4,"v":381.2,"txt":"SUPPORT"},
      {"p":"spy","grp":"supp","t":248.4,"v":373.1,"txt":"SUPPORT"},
      {"p":"spy","grp":"supp","t":248.4,"v":359.1,"txt":"SUPPORT"},
      {"p":"spy","grp":"eb","t":204.14,"v":461.73,"txt":"Exposure/Conviction"},
      {"p":"spy","grp":"el","t":228.14,"v":461.73,"txt":"EOD 13 Dec 2022"},
      {"p":"spy","grp":"el","t":204.14,"v":447.49,"txt":"Max. Short"},
      {"p":"spy","grp":"el","t":235.9,"v":447.49,"txt":"Max. Long"},
      {"p":"spy","grp":"el","t":204.14,"v":437.23,"txt":"*Larger the %, higher the conviction"},
      {"p":"spy","grp":"ec","t":206.66,"v":455.74,"txt":"-200%"},
      {"p":"spy","grp":"ec","t":216.0,"v":455.74,"txt":"-100%"},
      {"p":"spy","grp":"ec","t":223.7,"v":455.74,"txt":"0%"},
      {"p":"spy","grp":"ec","t":231.9,"v":455.74,"txt":"+100%"},
      {"p":"spy","grp":"ec","t":238.4,"v":455.74,"txt":"+200%"},
      {"p":"spy","grp":"ec","t":224.4,"v":444.63,"txt":"-0%"},
      {"p":"spy","grp":"ec","t":206.4,"v":441.08,"txt":"HIGH"},
      {"p":"spy","grp":"ec","t":223.75,"v":441.08,"txt":"LOW"},
      {"p":"spy","grp":"ec","t":239.0,"v":441.08,"txt":"HIGH"},
      {"p":"spy","grp":"ec","t":237.3,"v":434.66,"txt":"Today"},
      {"p":"spy","grp":"ec","t":243.6,"v":434.66,"txt":"Previous Day"}
    ],
    "tags": [
      {"p":"vix","grp":"red","t":252.17,"v":30.0,"lab":"30.00"},
      {"p":"vix","grp":"pinkred","t":252.17,"v":22.55,"lab":"22.55"},
      {"p":"spy","grp":"red","t":252.17,"v":429.56,"lab":"429.56"},
      {"p":"spy","grp":"red","t":252.17,"v":417.43,"lab":"417.43"},
      {"p":"spy","grp":"orange","t":252.17,"v":401.97,"lab":"401.97"},
      {"p":"spy","grp":"red","t":252.17,"v":390.23,"lab":"390.23"},
      {"p":"spy","grp":"red","t":252.17,"v":379.19,"lab":"379.19"},
      {"p":"spy","grp":"red","t":252.17,"v":371.01,"lab":"371.01"},
      {"p":"spy","grp":"red","t":252.17,"v":357.04,"lab":"357.04"}
    ],
    "divs": [
      {"t":52.93,"v":344.3,"txt":"D"},
      {"t":114.8,"v":344.3,"txt":"D"}
    ]
  },
  "vconcat": [
    {
      "width": 907,
      "height": 236,
      "resolve": {"axis": {"y": "independent"}},
      "layer": [
        {
          "data": {"name": "bg"},
          "transform": [{"filter": "datum.p == 'vix'"}],
          "mark": {"type": "rect", "color": {"gradient": "linear", "x1": 0, "y1": 0, "x2": 0, "y2": 1, "stops": [{"offset": 0, "color": "#fdf7c7"}, {"offset": 0.55, "color": "#f1eed6"}, {"offset": 1, "color": "#dedee4"}]}},
          "encoding": {
            "x": {"field": "t1", "type": "quantitative", "scale": {"domain": [-4.48, 249.5], "nice": false, "zero": false}, "axis": null},
            "x2": {"field": "t2"},
            "y": {"field": "v1", "type": "quantitative", "scale": {"domain": [17.913, 37.58], "nice": false, "zero": false}, "axis": null},
            "y2": {"field": "v2"}
          }
        },
        {
          "data": {"name": "zones"},
          "transform": [{"filter": "datum.p == 'vix'"}],
          "mark": {"type": "rect", "color": "#e49fe6", "opacity": 0.8},
          "encoding": {
            "x": {"field": "t1", "type": "quantitative", "scale": {"domain": [-4.48, 249.5], "nice": false, "zero": false}, "axis": null},
            "x2": {"field": "t2"},
            "y": {"field": "v1", "type": "quantitative", "scale": {"domain": [17.913, 37.58], "nice": false, "zero": false}, "axis": null},
            "y2": {"field": "v2"}
          }
        },
        {
          "data": {"name": "circ"},
          "transform": [{"filter": "datum.grp == 'y1600'"}],
          "mark": {"type": "point", "shape": "circle", "filled": true, "size": 1600, "color": "#f8ea40", "opacity": 0.72},
          "encoding": {
            "x": {"field": "t", "type": "quantitative", "scale": {"domain": [-4.48, 249.5], "nice": false, "zero": false}, "axis": null},
            "y": {"field": "v", "type": "quantitative", "scale": {"domain": [17.913, 37.58], "nice": false, "zero": false}, "axis": null}
          }
        },
        {
          "data": {"name": "levels"},
          "transform": [{"filter": "datum.p == 'vix'"}],
          "mark": {"type": "rule", "color": "#e8332f", "strokeWidth": 1.2, "strokeDash": [2, 2]},
          "encoding": {
            "y": {"field": "v", "type": "quantitative", "scale": {"domain": [17.913, 37.58], "nice": false, "zero": false}, "axis": null}
          }
        },
        {
          "data": {"name": "vix"},
          "mark": {"type": "rule", "color": "#7e7e6e", "strokeWidth": 0.8},
          "encoding": {
            "x": {"field": "t", "type": "quantitative", "scale": {"domain": [-4.48, 249.5], "nice": false, "zero": false}, "axis": null},
            "y": {"field": "l", "type": "quantitative", "scale": {"domain": [17.913, 37.58], "nice": false, "zero": false}, "axis": null},
            "y2": {"field": "h"}
          }
        },
        {
          "data": {"name": "vix"},
          "mark": {"type": "bar", "width": 2.5},
          "encoding": {
            "x": {"field": "t", "type": "quantitative", "scale": {"domain": [-4.48, 249.5], "nice": false, "zero": false}, "axis": null},
            "y": {"field": "o", "type": "quantitative", "scale": {"domain": [17.913, 37.58], "nice": false, "zero": false},
              "axis": {"orient": "right", "zindex": 2, "values": [18, 20, 24, 26, 28, 32, 34, 36], "format": ".2f", "labelPadding": 3, "labelOverlap": false, "labelBound": false, "title": "point", "titleAngle": 0, "titleX": 3, "titleY": 5, "titleAlign": "left", "titleBaseline": "middle", "titleFontSize": 6.5, "titleFontWeight": "normal", "titleColor": "#787b86", "titleFont": "Roboto"}},
            "y2": {"field": "c"},
            "fill": {"condition": {"test": "datum.c >= datum.o", "value": "#3a6fe0"}, "value": "#ef5a66"}
          }
        },
        {
          "data": {"name": "lines"},
          "transform": [{"filter": "datum.p == 'vix' && datum.grp == 'blue'"}],
          "mark": {"type": "line", "color": "#3a5fd8", "strokeWidth": 1},
          "encoding": {
            "x": {"field": "t", "type": "quantitative", "scale": {"domain": [-4.48, 249.5], "nice": false, "zero": false}, "axis": null},
            "y": {"field": "v", "type": "quantitative", "scale": {"domain": [17.913, 37.58], "nice": false, "zero": false}, "axis": null},
            "detail": {"field": "id"},
            "order": {"field": "ord"}
          }
        },
        {
          "data": {"name": "lines"},
          "transform": [{"filter": "datum.p == 'vix' && datum.grp == 'green'"}],
          "mark": {"type": "line", "color": "#22d030", "strokeWidth": 1.4},
          "encoding": {
            "x": {"field": "t", "type": "quantitative", "scale": {"domain": [-4.48, 249.5], "nice": false, "zero": false}, "axis": null},
            "y": {"field": "v", "type": "quantitative", "scale": {"domain": [17.913, 37.58], "nice": false, "zero": false}, "axis": null},
            "detail": {"field": "id"},
            "order": {"field": "ord"}
          }
        },
        {
          "data": {"name": "lines"},
          "transform": [{"filter": "datum.p == 'vix' && datum.grp == 'pink'"}],
          "mark": {"type": "line", "color": "#d93ccf", "strokeWidth": 1.3, "interpolate": "cardinal"},
          "encoding": {
            "x": {"field": "t", "type": "quantitative", "scale": {"domain": [-4.48, 249.5], "nice": false, "zero": false}, "axis": null},
            "y": {"field": "v", "type": "quantitative", "scale": {"domain": [17.913, 37.58], "nice": false, "zero": false}, "axis": null},
            "detail": {"field": "id"},
            "order": {"field": "ord"}
          }
        },
        {
          "data": {"name": "heads"},
          "transform": [{"filter": "datum.p == 'vix' && datum.grp == 'green'"}],
          "mark": {"type": "point", "shape": "M-0.7,0.5L0,-0.5L0.7,0.5", "filled": false, "size": 80, "color": "#22d030", "strokeWidth": 1.4, "opacity": 1},
          "encoding": {
            "x": {"field": "t", "type": "quantitative", "scale": {"domain": [-4.48, 249.5], "nice": false, "zero": false}, "axis": null},
            "y": {"field": "v", "type": "quantitative", "scale": {"domain": [17.913, 37.58], "nice": false, "zero": false}, "axis": null},
            "angle": {"field": "ang", "type": "quantitative", "scale": null}
          }
        },
        {
          "data": {"name": "heads"},
          "transform": [{"filter": "datum.p == 'vix' && datum.grp == 'blue'"}],
          "mark": {"type": "point", "shape": "M-0.7,0.5L0,-0.5L0.7,0.5", "filled": false, "size": 60, "color": "#3a5fd8", "strokeWidth": 1, "opacity": 1},
          "encoding": {
            "x": {"field": "t", "type": "quantitative", "scale": {"domain": [-4.48, 249.5], "nice": false, "zero": false}, "axis": null},
            "y": {"field": "v", "type": "quantitative", "scale": {"domain": [17.913, 37.58], "nice": false, "zero": false}, "axis": null},
            "angle": {"field": "ang", "type": "quantitative", "scale": null}
          }
        },
        {
          "data": {"name": "ptr"},
          "transform": [{"filter": "datum.p == 'vix'"}],
          "mark": {"type": "trail", "color": "#b5625a"},
          "encoding": {
            "x": {"field": "t", "type": "quantitative", "scale": {"domain": [-4.48, 249.5], "nice": false, "zero": false}, "axis": null},
            "y": {"field": "v", "type": "quantitative", "scale": {"domain": [17.913, 37.58], "nice": false, "zero": false}, "axis": null},
            "size": {"field": "end", "type": "ordinal", "scale": {"domain": ["tip", "base"], "range": [0.5, 8]}, "legend": null},
            "detail": {"field": "id"}
          }
        },
        {
          "data": {"name": "boxes"},
          "transform": [{"filter": "datum.kind == 'peak'"}],
          "mark": {"type": "rect", "color": "#b5625a", "stroke": "#9a4c46", "strokeWidth": 0.8, "cornerRadius": 4},
          "encoding": {
            "x": {"field": "t1", "type": "quantitative", "scale": {"domain": [-4.48, 249.5], "nice": false, "zero": false}, "axis": null},
            "x2": {"field": "t2"},
            "y": {"field": "v1", "type": "quantitative", "scale": {"domain": [17.913, 37.58], "nice": false, "zero": false}, "axis": null},
            "y2": {"field": "v2"}
          }
        },
        {
          "data": {"name": "boxes"},
          "transform": [{"filter": "datum.kind == 'peak'"}],
          "mark": {"type": "text", "align": "left", "baseline": "middle", "color": "#ffffff", "fontSize": 7, "fontWeight": "bold", "lineBreak": "\n", "lineHeight": 8},
          "encoding": {
            "x": {"field": "tc", "type": "quantitative", "scale": {"domain": [-4.48, 249.5], "nice": false, "zero": false}, "axis": null},
            "y": {"field": "vc", "type": "quantitative", "scale": {"domain": [17.913, 37.58], "nice": false, "zero": false}, "axis": null},
            "text": {"field": "txt"}
          }
        },
        {
          "data": {"name": "notes"},
          "transform": [{"filter": "datum.p == 'vix' && datum.grp == 'hdr'"}],
          "mark": {"type": "text", "align": "left", "baseline": "middle", "color": "#6a6d78", "fontSize": 6.5, "font": "Roboto"},
          "encoding": {
            "x": {"field": "t", "type": "quantitative", "scale": {"domain": [-4.48, 249.5], "nice": false, "zero": false}, "axis": null},
            "y": {"field": "v", "type": "quantitative", "scale": {"domain": [17.913, 37.58], "nice": false, "zero": false}, "axis": null},
            "text": {"field": "txt"}
          }
        },
        {
          "data": {"name": "notes"},
          "transform": [{"filter": "datum.p == 'vix' && datum.grp == 'panic'"}],
          "mark": {"type": "text", "align": "right", "baseline": "middle", "color": "#1f7f52", "fontSize": 11.5, "fontWeight": "bold"},
          "encoding": {
            "x": {"field": "t", "type": "quantitative", "scale": {"domain": [-4.48, 249.5], "nice": false, "zero": false}, "axis": null},
            "y": {"field": "v", "type": "quantitative", "scale": {"domain": [17.913, 37.58], "nice": false, "zero": false}, "axis": null},
            "text": {"field": "txt"}
          }
        },
        {
          "data": {"name": "notes"},
          "transform": [{"filter": "datum.p == 'vix' && (datum.grp == 'q' || datum.grp == 'chk')"}],
          "mark": {"type": "text", "align": "center", "baseline": "middle", "color": "#5e3aa6", "fontSize": 17, "fontWeight": "bold", "font": "DejaVu Sans"},
          "encoding": {
            "x": {"field": "t", "type": "quantitative", "scale": {"domain": [-4.48, 249.5], "nice": false, "zero": false}, "axis": null},
            "y": {"field": "v", "type": "quantitative", "scale": {"domain": [17.913, 37.58], "nice": false, "zero": false}, "axis": null},
            "text": {"field": "txt"}
          }
        },
        {
          "data": {"name": "tags"},
          "transform": [{"filter": "datum.p == 'vix'"}],
          "mark": {"type": "point", "shape": "M-1,-0.31H1V0.31H-1Z", "filled": true, "size": 441, "opacity": 1},
          "encoding": {
            "x": {"field": "t", "type": "quantitative", "scale": {"domain": [-4.48, 249.5], "nice": false, "zero": false}, "axis": null},
            "y": {"field": "v", "type": "quantitative", "scale": {"domain": [17.913, 37.58], "nice": false, "zero": false}, "axis": null},
            "color": {"field": "grp", "type": "nominal", "scale": {"domain": ["red", "pinkred"], "range": ["#f23645", "#f26a7a"]}, "legend": null}
          }
        },
        {
          "data": {"name": "tags"},
          "transform": [{"filter": "datum.p == 'vix'"}],
          "mark": {"type": "text", "align": "center", "baseline": "middle", "color": "#ffffff", "fontSize": 5.8, "font": "Roboto"},
          "encoding": {
            "x": {"field": "t", "type": "quantitative", "scale": {"domain": [-4.48, 249.5], "nice": false, "zero": false}, "axis": null},
            "y": {"field": "v", "type": "quantitative", "scale": {"domain": [17.913, 37.58], "nice": false, "zero": false}, "axis": null},
            "text": {"field": "lab"}
          }
        }
      ]
    },
    {
      "width": 907,
      "height": 296,
      "layer": [
        {
          "data": {"name": "bg"},
          "transform": [{"filter": "datum.p == 'spy'"}],
          "mark": {"type": "rect", "color": {"gradient": "linear", "x1": 0, "y1": 0, "x2": 0, "y2": 1, "stops": [{"offset": 0, "color": "#fcf6c6"}, {"offset": 0.55, "color": "#f0edd7"}, {"offset": 1, "color": "#e0e0e6"}]}},
          "encoding": {
            "x": {"field": "t1", "type": "quantitative", "scale": {"domain": [-4.48, 249.5], "nice": false, "zero": false}},
            "x2": {"field": "t2"},
            "y": {"field": "v1", "type": "quantitative", "scale": {"domain": [342.73, 469.3], "nice": false, "zero": false}},
            "y2": {"field": "v2"}
          }
        },
        {
          "data": {"name": "zones"},
          "transform": [{"filter": "datum.p == 'spy'"}],
          "mark": {"type": "rect", "color": "#ef9fdc", "opacity": 0.72},
          "encoding": {
            "x": {"field": "t1", "type": "quantitative", "scale": {"domain": [-4.48, 249.5], "nice": false, "zero": false}},
            "x2": {"field": "t2"},
            "y": {"field": "v1", "type": "quantitative", "scale": {"domain": [342.73, 469.3], "nice": false, "zero": false}},
            "y2": {"field": "v2"}
          }
        },
        {
          "data": {"name": "circ"},
          "transform": [{"filter": "datum.grp == 'y3200'"}],
          "mark": {"type": "point", "shape": "circle", "filled": true, "size": 3200, "color": "#f8ea40", "opacity": 0.8},
          "encoding": {
            "x": {"field": "t", "type": "quantitative", "scale": {"domain": [-4.48, 249.5], "nice": false, "zero": false}},
            "y": {"field": "v", "type": "quantitative", "scale": {"domain": [342.73, 469.3], "nice": false, "zero": false}}
          }
        },
        {
          "data": {"name": "circ"},
          "transform": [{"filter": "datum.grp == 'y1024'"}],
          "mark": {"type": "point", "shape": "circle", "filled": true, "size": 1024, "color": "#f8ea40", "opacity": 0.8},
          "encoding": {
            "x": {"field": "t", "type": "quantitative", "scale": {"domain": [-4.48, 249.5], "nice": false, "zero": false}},
            "y": {"field": "v", "type": "quantitative", "scale": {"domain": [342.73, 469.3], "nice": false, "zero": false}}
          }
        },
        {
          "data": {"name": "circ"},
          "transform": [{"filter": "datum.grp == 'y680'"}],
          "mark": {"type": "point", "shape": "circle", "filled": true, "size": 680, "color": "#f8ea40", "opacity": 0.8},
          "encoding": {
            "x": {"field": "t", "type": "quantitative", "scale": {"domain": [-4.48, 249.5], "nice": false, "zero": false}},
            "y": {"field": "v", "type": "quantitative", "scale": {"domain": [342.73, 469.3], "nice": false, "zero": false}}
          }
        },
        {
          "data": {"name": "circ"},
          "transform": [{"filter": "datum.grp == 'y256'"}],
          "mark": {"type": "point", "shape": "circle", "filled": true, "size": 256, "color": "#f8ea40", "opacity": 0.8},
          "encoding": {
            "x": {"field": "t", "type": "quantitative", "scale": {"domain": [-4.48, 249.5], "nice": false, "zero": false}},
            "y": {"field": "v", "type": "quantitative", "scale": {"domain": [342.73, 469.3], "nice": false, "zero": false}}
          }
        },
        {
          "data": {"name": "circ"},
          "transform": [{"filter": "datum.grp == 'c1600'"}],
          "mark": {"type": "point", "shape": "circle", "filled": true, "size": 1760, "color": "#a7e4ef", "opacity": 0.85},
          "encoding": {
            "x": {"field": "t", "type": "quantitative", "scale": {"domain": [-4.48, 249.5], "nice": false, "zero": false}},
            "y": {"field": "v", "type": "quantitative", "scale": {"domain": [342.73, 469.3], "nice": false, "zero": false}}
          }
        },
        {
          "data": {"name": "circ"},
          "transform": [{"filter": "datum.grp == 'c1024'"}],
          "mark": {"type": "point", "shape": "circle", "filled": true, "size": 1024, "color": "#a7e4ef", "opacity": 0.85},
          "encoding": {
            "x": {"field": "t", "type": "quantitative", "scale": {"domain": [-4.48, 249.5], "nice": false, "zero": false}},
            "y": {"field": "v", "type": "quantitative", "scale": {"domain": [342.73, 469.3], "nice": false, "zero": false}}
          }
        },
        {
          "data": {"name": "levels"},
          "transform": [{"filter": "datum.p == 'spy'"}],
          "mark": {"type": "rule", "color": "#e8332f", "strokeWidth": 1.2, "strokeDash": [2, 2]},
          "encoding": {
            "y": {"field": "v", "type": "quantitative", "scale": {"domain": [342.73, 469.3], "nice": false, "zero": false}}
          }
        },
        {
          "data": {"name": "lines"},
          "transform": [{"filter": "datum.p == 'spy' && datum.grp == 'pinkbar'"}],
          "mark": {"type": "line", "color": "#f2a6dc", "strokeWidth": 3},
          "encoding": {
            "x": {"field": "t", "type": "quantitative", "scale": {"domain": [-4.48, 249.5], "nice": false, "zero": false}},
            "y": {"field": "v", "type": "quantitative", "scale": {"domain": [342.73, 469.3], "nice": false, "zero": false}},
            "detail": {"field": "id"},
            "order": {"field": "ord"}
          }
        },
        {
          "data": {"name": "spy"},
          "mark": {"type": "rule", "color": "#4a4a4a", "strokeWidth": 0.8},
          "encoding": {
            "x": {"field": "t", "type": "quantitative", "scale": {"domain": [-4.48, 249.5], "nice": false, "zero": false}},
            "y": {"field": "l", "type": "quantitative", "scale": {"domain": [342.73, 469.3], "nice": false, "zero": false}},
            "y2": {"field": "h"}
          }
        },
        {
          "data": {"name": "spy"},
          "mark": {"type": "bar", "width": 2.6, "stroke": "#333333", "strokeWidth": 0.4},
          "encoding": {
            "x": {"field": "t", "type": "quantitative", "scale": {"domain": [-4.48, 249.5], "nice": false, "zero": false},
              "axis": {"zindex": 2, "values": [0, 10, 20, 30, 41, 51, 62, 72, 82, 92, 105, 115, 126, 136, 147, 157, 168, 178, 189, 199, 209, 228, 241],
                "labelExpr": "['Apr','18','May','16','Jun','15','Jul','18','Aug','15','Sep','19','Oct','17','Nov','15','Dec','15','2023','16','Feb','Mar','20'][indexof([0,10,20,30,41,51,62,72,82,92,105,115,126,136,147,157,168,178,189,199,209,228,241], datum.value)]",
                "title": null, "labelPadding": 3, "labelFlush": false, "labelOverlap": false, "labelFontSize": 7,
                "labelFontWeight": {"condition": {"test": "datum.value == 189", "value": "bold"}, "value": "normal"}}},
            "y": {"field": "o", "type": "quantitative", "scale": {"domain": [342.73, 469.3], "nice": false, "zero": false},
              "axis": {"orient": "right", "zindex": 2, "values": [350, 360, 410, 420, 440, 450, 460], "format": ".2f", "labelPadding": 3, "labelOverlap": false, "title": "USD", "titleAngle": 0, "titleX": 3, "titleY": 7, "titleAlign": "left", "titleBaseline": "middle", "titleFontSize": 6.5, "titleFontWeight": "normal", "titleColor": "#787b86", "titleFont": "Roboto"}},
            "y2": {"field": "c"},
            "fill": {"condition": {"test": "datum.c >= datum.o", "value": "#f2da4a"}, "value": "#151515"}
          }
        },
        {
          "data": {"name": "lines"},
          "transform": [{"filter": "datum.p == 'spy' && datum.grp == 'blue'"}],
          "mark": {"type": "line", "color": "#3a5fd8", "strokeWidth": 1},
          "encoding": {
            "x": {"field": "t", "type": "quantitative", "scale": {"domain": [-4.48, 249.5], "nice": false, "zero": false}},
            "y": {"field": "v", "type": "quantitative", "scale": {"domain": [342.73, 469.3], "nice": false, "zero": false}},
            "detail": {"field": "id"},
            "order": {"field": "ord"}
          }
        },
        {
          "data": {"name": "lines"},
          "transform": [{"filter": "datum.p == 'spy' && datum.grp == 'green'"}],
          "mark": {"type": "line", "color": "#22d030", "strokeWidth": 1.4},
          "encoding": {
            "x": {"field": "t", "type": "quantitative", "scale": {"domain": [-4.48, 249.5], "nice": false, "zero": false}},
            "y": {"field": "v", "type": "quantitative", "scale": {"domain": [342.73, 469.3], "nice": false, "zero": false}},
            "detail": {"field": "id"},
            "order": {"field": "ord"}
          }
        },
        {
          "data": {"name": "lines"},
          "transform": [{"filter": "datum.p == 'spy' && datum.grp == 'pink'"}],
          "mark": {"type": "line", "color": "#d93ccf", "strokeWidth": 1.3, "interpolate": "cardinal"},
          "encoding": {
            "x": {"field": "t", "type": "quantitative", "scale": {"domain": [-4.48, 249.5], "nice": false, "zero": false}},
            "y": {"field": "v", "type": "quantitative", "scale": {"domain": [342.73, 469.3], "nice": false, "zero": false}},
            "detail": {"field": "id"},
            "order": {"field": "ord"}
          }
        },
        {
          "data": {"name": "heads"},
          "transform": [{"filter": "datum.p == 'spy' && datum.grp == 'green'"}],
          "mark": {"type": "point", "shape": "M-0.7,0.5L0,-0.5L0.7,0.5", "filled": false, "size": 80, "color": "#22d030", "strokeWidth": 1.4, "opacity": 1},
          "encoding": {
            "x": {"field": "t", "type": "quantitative", "scale": {"domain": [-4.48, 249.5], "nice": false, "zero": false}},
            "y": {"field": "v", "type": "quantitative", "scale": {"domain": [342.73, 469.3], "nice": false, "zero": false}},
            "angle": {"field": "ang", "type": "quantitative", "scale": null}
          }
        },
        {
          "data": {"name": "heads"},
          "transform": [{"filter": "datum.p == 'spy' && datum.grp == 'blue'"}],
          "mark": {"type": "point", "shape": "M-0.7,0.5L0,-0.5L0.7,0.5", "filled": false, "size": 60, "color": "#3a5fd8", "strokeWidth": 1, "opacity": 1},
          "encoding": {
            "x": {"field": "t", "type": "quantitative", "scale": {"domain": [-4.48, 249.5], "nice": false, "zero": false}},
            "y": {"field": "v", "type": "quantitative", "scale": {"domain": [342.73, 469.3], "nice": false, "zero": false}},
            "angle": {"field": "ang", "type": "quantitative", "scale": null}
          }
        },
        {
          "data": {"name": "divs"},
          "mark": {"type": "point", "shape": "circle", "filled": true, "size": 60, "fill": "#ffffff", "stroke": "#3a64d8", "strokeWidth": 1, "opacity": 1},
          "encoding": {
            "x": {"field": "t", "type": "quantitative", "scale": {"domain": [-4.48, 249.5], "nice": false, "zero": false}},
            "y": {"field": "v", "type": "quantitative", "scale": {"domain": [342.73, 469.3], "nice": false, "zero": false}}
          }
        },
        {
          "data": {"name": "divs"},
          "mark": {"type": "text", "align": "center", "baseline": "middle", "color": "#3a64d8", "fontSize": 5.5, "fontWeight": "bold"},
          "encoding": {
            "x": {"field": "t", "type": "quantitative", "scale": {"domain": [-4.48, 249.5], "nice": false, "zero": false}},
            "y": {"field": "v", "type": "quantitative", "scale": {"domain": [342.73, 469.3], "nice": false, "zero": false}},
            "text": {"field": "txt"}
          }
        },
        {
          "data": {"name": "ptr"},
          "transform": [{"filter": "datum.p == 'spy'"}],
          "mark": {"type": "trail", "color": "#b5625a"},
          "encoding": {
            "x": {"field": "t", "type": "quantitative", "scale": {"domain": [-4.48, 249.5], "nice": false, "zero": false}},
            "y": {"field": "v", "type": "quantitative", "scale": {"domain": [342.73, 469.3], "nice": false, "zero": false}},
            "size": {"field": "end", "type": "ordinal", "scale": {"domain": ["tip", "base"], "range": [0.5, 8]}, "legend": null},
            "detail": {"field": "id"}
          }
        },
        {
          "data": {"name": "boxes"},
          "transform": [{"filter": "datum.kind == 'cyan' || datum.kind == 'cyan2' || datum.kind == 'white' || datum.kind == 'pink'"}],
          "mark": {"type": "rect", "strokeWidth": 1},
          "encoding": {
            "x": {"field": "t1", "type": "quantitative", "scale": {"domain": [-4.48, 249.5], "nice": false, "zero": false}},
            "x2": {"field": "t2"},
            "y": {"field": "v1", "type": "quantitative", "scale": {"domain": [342.73, 469.3], "nice": false, "zero": false}},
            "y2": {"field": "v2"},
            "fill": {"field": "kind", "type": "nominal", "scale": {"domain": ["cyan", "cyan2", "white", "pink"], "range": ["#55e3e3", "#55e3e3", "#ffffff", "#f3c4ef"]}, "legend": null},
            "stroke": {"field": "kind", "type": "nominal", "scale": {"domain": ["cyan", "cyan2", "white", "pink"], "range": ["#2d6262", "#2d6262", "#ffffff", "#f3c4ef"]}, "legend": null}
          }
        },
        {
          "data": {"name": "boxes"},
          "transform": [{"filter": "datum.kind == 'cyan'"}],
          "mark": {"type": "text", "align": "center", "baseline": "middle", "color": "#d9303a", "fontSize": 7.5, "fontWeight": "bold"},
          "encoding": {
            "x": {"field": "tc", "type": "quantitative", "scale": {"domain": [-4.48, 249.5], "nice": false, "zero": false}},
            "y": {"field": "vc", "type": "quantitative", "scale": {"domain": [342.73, 469.3], "nice": false, "zero": false}},
            "text": {"field": "txt"}
          }
        },
        {
          "data": {"name": "boxes"},
          "transform": [{"filter": "datum.kind == 'cyan2'"}],
          "mark": {"type": "text", "align": "left", "baseline": "middle", "dx": 2.5, "color": "#d9303a", "fontSize": 7.5, "fontWeight": "bold", "lineBreak": "\n", "lineHeight": 7.5},
          "encoding": {
            "x": {"field": "t1", "type": "quantitative", "scale": {"domain": [-4.48, 249.5], "nice": false, "zero": false}},
            "y": {"field": "vc", "type": "quantitative", "scale": {"domain": [342.73, 469.3], "nice": false, "zero": false}},
            "text": {"field": "txt"}
          }
        },
        {
          "data": {"name": "boxes"},
          "transform": [{"filter": "datum.kind == 'white'"}],
          "mark": {"type": "text", "align": "center", "baseline": "middle", "color": "#222222", "fontSize": 5.8, "fontWeight": "bold"},
          "encoding": {
            "x": {"field": "tc", "type": "quantitative", "scale": {"domain": [-4.48, 249.5], "nice": false, "zero": false}},
            "y": {"field": "vc", "type": "quantitative", "scale": {"domain": [342.73, 469.3], "nice": false, "zero": false}},
            "text": {"field": "txt"}
          }
        },
        {
          "data": {"name": "boxes"},
          "transform": [{"filter": "datum.kind == 'pink'"}],
          "mark": {"type": "text", "align": "center", "baseline": "middle", "color": "#6b2b86", "fontSize": 5.8, "fontWeight": "bold"},
          "encoding": {
            "x": {"field": "tc", "type": "quantitative", "scale": {"domain": [-4.48, 249.5], "nice": false, "zero": false}},
            "y": {"field": "vc", "type": "quantitative", "scale": {"domain": [342.73, 469.3], "nice": false, "zero": false}},
            "text": {"field": "txt"}
          }
        },
        {
          "data": {"name": "boxes"},
          "transform": [{"filter": "datum.kind == 'gap'"}],
          "mark": {"type": "rect", "color": "#b5625a", "stroke": "#9a4c46", "strokeWidth": 0.8, "cornerRadius": 5},
          "encoding": {
            "x": {"field": "t1", "type": "quantitative", "scale": {"domain": [-4.48, 249.5], "nice": false, "zero": false}},
            "x2": {"field": "t2"},
            "y": {"field": "v1", "type": "quantitative", "scale": {"domain": [342.73, 469.3], "nice": false, "zero": false}},
            "y2": {"field": "v2"}
          }
        },
        {
          "data": {"name": "boxes"},
          "transform": [{"filter": "datum.kind == 'gap'"}],
          "mark": {"type": "text", "align": "center", "baseline": "middle", "color": "#ffffff", "fontSize": 11, "fontWeight": "bold"},
          "encoding": {
            "x": {"field": "tc", "type": "quantitative", "scale": {"domain": [-4.48, 249.5], "nice": false, "zero": false}},
            "y": {"field": "vc", "type": "quantitative", "scale": {"domain": [342.73, 469.3], "nice": false, "zero": false}},
            "text": {"field": "txt"}
          }
        },
        {
          "data": {"name": "boxes"},
          "transform": [{"filter": "datum.kind == 'title'"}],
          "mark": {"type": "rect", "color": "#55e8e8", "stroke": "#111111", "strokeWidth": 1.6},
          "encoding": {
            "x": {"field": "t1", "type": "quantitative", "scale": {"domain": [-4.48, 249.5], "nice": false, "zero": false}},
            "x2": {"field": "t2"},
            "y": {"field": "v1", "type": "quantitative", "scale": {"domain": [342.73, 469.3], "nice": false, "zero": false}},
            "y2": {"field": "v2"}
          }
        },
        {
          "data": {"name": "boxes"},
          "transform": [{"filter": "datum.kind == 'title'"}],
          "mark": {"type": "text", "align": "center", "baseline": "middle", "color": "#d9262f", "fontSize": 18.5, "fontWeight": "bold"},
          "encoding": {
            "x": {"field": "tc", "type": "quantitative", "scale": {"domain": [-4.48, 249.5], "nice": false, "zero": false}},
            "y": {"field": "vc", "type": "quantitative", "scale": {"domain": [342.73, 469.3], "nice": false, "zero": false}},
            "text": {"field": "txt"}
          }
        },
        {
          "data": {"name": "notes"},
          "transform": [{"filter": "datum.p == 'spy' && datum.grp == 'hdr'"}],
          "mark": {"type": "text", "align": "left", "baseline": "middle", "color": "#3a3a44", "fontSize": 6.5, "font": "Roboto"},
          "encoding": {
            "x": {"field": "t", "type": "quantitative", "scale": {"domain": [-4.48, 249.5], "nice": false, "zero": false}},
            "y": {"field": "v", "type": "quantitative", "scale": {"domain": [342.73, 469.3], "nice": false, "zero": false}},
            "text": {"field": "txt"}
          }
        },
        {
          "data": {"name": "notes"},
          "transform": [{"filter": "datum.p == 'spy' && datum.grp == 'supp'"}],
          "mark": {"type": "text", "align": "right", "baseline": "middle", "color": "#2e8b57", "fontSize": 6.8, "fontWeight": "bold"},
          "encoding": {
            "x": {"field": "t", "type": "quantitative", "scale": {"domain": [-4.48, 249.5], "nice": false, "zero": false}},
            "y": {"field": "v", "type": "quantitative", "scale": {"domain": [342.73, 469.3], "nice": false, "zero": false}},
            "text": {"field": "txt"}
          }
        },
        {
          "data": {"name": "expo"},
          "transform": [{"filter": "datum.grp == 'box'"}],
          "mark": {"type": "rect", "color": "#ffffff"},
          "encoding": {
            "x": {"field": "t1", "type": "quantitative", "scale": {"domain": [-4.48, 249.5], "nice": false, "zero": false}},
            "x2": {"field": "t2"},
            "y": {"field": "v1", "type": "quantitative", "scale": {"domain": [342.73, 469.3], "nice": false, "zero": false}},
            "y2": {"field": "v2"}
          }
        },
        {
          "data": {"name": "expo"},
          "transform": [{"filter": "datum.grp == 'bar'"}],
          "mark": {"type": "rect", "color": {"gradient": "linear", "x1": 0, "y1": 0, "x2": 1, "y2": 0, "stops": [{"offset": 0, "color": "#e8141e"}, {"offset": 0.13, "color": "#e8141e"}, {"offset": 0.14, "color": "#f3a0a8"}, {"offset": 0.26, "color": "#f6b4bb"}, {"offset": 0.5, "color": "#fbe9eb"}, {"offset": 0.51, "color": "#e6f0dc"}, {"offset": 0.74, "color": "#b6d79e"}, {"offset": 0.86, "color": "#98c67c"}, {"offset": 0.87, "color": "#5c9e3a"}, {"offset": 1, "color": "#5c9e3a"}]}},
          "encoding": {
            "x": {"field": "t1", "type": "quantitative", "scale": {"domain": [-4.48, 249.5], "nice": false, "zero": false}},
            "x2": {"field": "t2"},
            "y": {"field": "v1", "type": "quantitative", "scale": {"domain": [342.73, 469.3], "nice": false, "zero": false}},
            "y2": {"field": "v2"}
          }
        },
        {
          "data": {"name": "lines"},
          "transform": [{"filter": "datum.p == 'spy' && datum.grp == 'eblue'"}],
          "mark": {"type": "line", "color": "#3a64c8", "strokeWidth": 0.9},
          "encoding": {
            "x": {"field": "t", "type": "quantitative", "scale": {"domain": [-4.48, 249.5], "nice": false, "zero": false}},
            "y": {"field": "v", "type": "quantitative", "scale": {"domain": [342.73, 469.3], "nice": false, "zero": false}},
            "detail": {"field": "id"},
            "order": {"field": "ord"}
          }
        },
        {
          "data": {"name": "heads"},
          "transform": [{"filter": "datum.p == 'spy' && datum.grp == 'eblue'"}],
          "mark": {"type": "point", "shape": "M-0.7,0.5L0,-0.5L0.7,0.5", "filled": false, "size": 25, "color": "#3a64c8", "strokeWidth": 0.9, "opacity": 1},
          "encoding": {
            "x": {"field": "t", "type": "quantitative", "scale": {"domain": [-4.48, 249.5], "nice": false, "zero": false}},
            "y": {"field": "v", "type": "quantitative", "scale": {"domain": [342.73, 469.3], "nice": false, "zero": false}},
            "angle": {"field": "ang", "type": "quantitative", "scale": null}
          }
        },
        {
          "data": {"name": "circ"},
          "transform": [{"filter": "datum.grp == 'eup'"}],
          "mark": {"type": "point", "shape": "arrow", "filled": true, "size": 60, "color": "#2f5fa8", "opacity": 1},
          "encoding": {
            "x": {"field": "t", "type": "quantitative", "scale": {"domain": [-4.48, 249.5], "nice": false, "zero": false}},
            "y": {"field": "v", "type": "quantitative", "scale": {"domain": [342.73, 469.3], "nice": false, "zero": false}}
          }
        },
        {
          "data": {"name": "circ"},
          "transform": [{"filter": "datum.grp == 'eprev'"}],
          "mark": {"type": "point", "shape": "arrow", "filled": true, "size": 60, "color": "#c9c2ea", "opacity": 1},
          "encoding": {
            "x": {"field": "t", "type": "quantitative", "scale": {"domain": [-4.48, 249.5], "nice": false, "zero": false}},
            "y": {"field": "v", "type": "quantitative", "scale": {"domain": [342.73, 469.3], "nice": false, "zero": false}}
          }
        },
        {
          "data": {"name": "notes"},
          "transform": [{"filter": "datum.grp == 'eb'"}],
          "mark": {"type": "text", "align": "left", "baseline": "middle", "color": "#222222", "fontSize": 5.5, "fontWeight": "bold"},
          "encoding": {
            "x": {"field": "t", "type": "quantitative", "scale": {"domain": [-4.48, 249.5], "nice": false, "zero": false}},
            "y": {"field": "v", "type": "quantitative", "scale": {"domain": [342.73, 469.3], "nice": false, "zero": false}},
            "text": {"field": "txt"}
          }
        },
        {
          "data": {"name": "notes"},
          "transform": [{"filter": "datum.grp == 'el'"}],
          "mark": {"type": "text", "align": "left", "baseline": "middle", "color": "#333333", "fontSize": 4.6},
          "encoding": {
            "x": {"field": "t", "type": "quantitative", "scale": {"domain": [-4.48, 249.5], "nice": false, "zero": false}},
            "y": {"field": "v", "type": "quantitative", "scale": {"domain": [342.73, 469.3], "nice": false, "zero": false}},
            "text": {"field": "txt"}
          }
        },
        {
          "data": {"name": "notes"},
          "transform": [{"filter": "datum.grp == 'ec'"}],
          "mark": {"type": "text", "align": "center", "baseline": "middle", "color": "#333333", "fontSize": 4.4},
          "encoding": {
            "x": {"field": "t", "type": "quantitative", "scale": {"domain": [-4.48, 249.5], "nice": false, "zero": false}},
            "y": {"field": "v", "type": "quantitative", "scale": {"domain": [342.73, 469.3], "nice": false, "zero": false}},
            "text": {"field": "txt"}
          }
        },
        {
          "data": {"name": "tags"},
          "transform": [{"filter": "datum.p == 'spy'"}],
          "mark": {"type": "point", "shape": "M-1,-0.31H1V0.31H-1Z", "filled": true, "size": 441, "opacity": 1},
          "encoding": {
            "x": {"field": "t", "type": "quantitative", "scale": {"domain": [-4.48, 249.5], "nice": false, "zero": false}},
            "y": {"field": "v", "type": "quantitative", "scale": {"domain": [342.73, 469.3], "nice": false, "zero": false}},
            "color": {"field": "grp", "type": "nominal", "scale": {"domain": ["red", "orange"], "range": ["#f23645", "#f5a623"]}, "legend": null}
          }
        },
        {
          "data": {"name": "tags"},
          "transform": [{"filter": "datum.p == 'spy'"}],
          "mark": {"type": "text", "align": "center", "baseline": "middle", "fontSize": 5.8, "font": "Roboto"},
          "encoding": {
            "x": {"field": "t", "type": "quantitative", "scale": {"domain": [-4.48, 249.5], "nice": false, "zero": false}},
            "y": {"field": "v", "type": "quantitative", "scale": {"domain": [342.73, 469.3], "nice": false, "zero": false}},
            "text": {"field": "lab"},
            "color": {"condition": {"test": "datum.grp == 'orange'", "value": "#3a2a00"}, "value": "#ffffff"}
          }
        }
      ]
    }
  ]
}
